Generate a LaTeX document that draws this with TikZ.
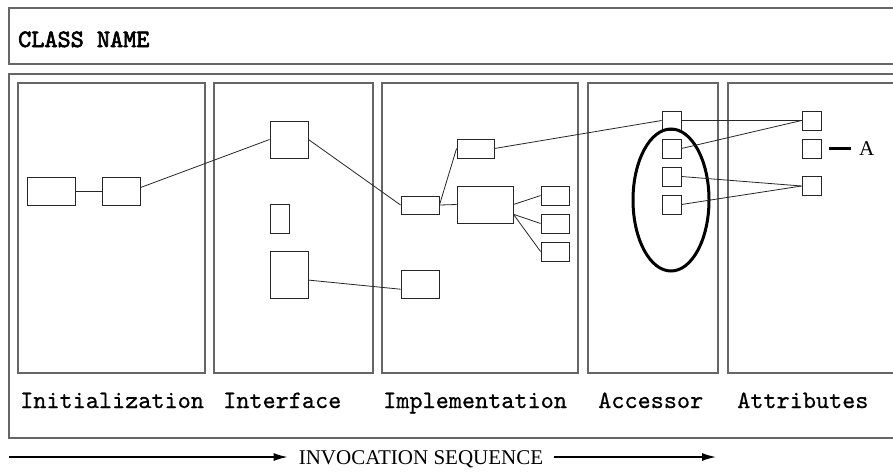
\documentclass[tikz,border=0pt]{standalone}
\usepackage{fontspec}
\setmainfont{Liberation Serif}
\newfontfamily\lblfont{lmmono10-regular.otf}[FakeBold=0.6]
\newfontfamily\clsfont{lmmono10-regular.otf}[FakeBold=2.6]
\usetikzlibrary{arrows.meta}

\begin{document}
\begin{tikzpicture}[x=1pt,y=-1pt]
\tikzstyle{every node}+=[inner sep=0pt]
\tikzstyle{blk}=[draw, black!85, line width=0.9pt, rectangle]
\tikzstyle{pane}=[draw, black!60, line width=1.2pt]
\tikzstyle{lnk}=[black!85, line width=0.8pt]
\tikzstyle{lbl}=[anchor=base west, font=\fontsize{25}{27}\selectfont\lblfont]
\tikzstyle{arr}=[black, line width=1.4pt, -{Latex[length=14pt,width=8pt]}]
\useasboundingbox (0,0) rectangle (893,472);
\clip (0,0) rectangle (893,472);
\draw [pane] (9,8) rectangle (900,64);
\draw [pane] (9,74) rectangle (900,438);
\draw [pane] (18,83) rectangle (205,373);
\draw [pane] (214,83) rectangle (373,373);
\draw [pane] (382,83) rectangle (578,373);
\draw [pane] (588,83) rectangle (718,373);
\draw [pane] (728,83) rectangle (900,373);
\node [lbl, font=\fontsize{25}{27}\selectfont\clsfont] (cname) at (18,47) {CLASS NAME};
\node [lbl] (tini) at (20,408) {Initialization};
\node [lbl] (tint) at (223,408) {Interface};
\node [lbl] (timp) at (383,408) {Implementation};
\node [lbl] (tacc) at (598,408) {Accessor};
\node [lbl] (tatt) at (737,408) {Attributes};
\node [blk, minimum width=48pt, minimum height=28pt] (ini1) at (51,191) {};
\node [blk, minimum width=38pt, minimum height=28pt] (ini2) at (121,191) {};
\node [blk, minimum width=38pt, minimum height=37pt] (int1) at (289,139.5) {};
\node [blk, minimum width=19pt, minimum height=29pt] (int2) at (279.5,218.5) {};
\node [blk, minimum width=38pt, minimum height=47pt] (int3) at (289,274.5) {};
\node [blk, minimum width=38pt, minimum height=18pt] (impa) at (420,205) {};
\node [blk, minimum width=38pt, minimum height=28pt] (impb) at (420,284) {};
\node [blk, minimum width=37pt, minimum height=19pt] (impc) at (475.5,148.5) {};
\node [blk, minimum width=56pt, minimum height=37pt] (impd) at (485,204.5) {};
\node [blk, minimum width=28pt, minimum height=19pt] (impe1) at (555,195.5) {};
\node [blk, minimum width=28pt, minimum height=19pt] (impe2) at (555,223.5) {};
\node [blk, minimum width=28pt, minimum height=19pt] (impe3) at (555,251.5) {};
\node [blk, minimum width=19pt, minimum height=19pt] (acc1) at (671.5,120.5) {};
\node [blk, minimum width=19pt, minimum height=19pt] (acc2) at (671.5,148.5) {};
\node [blk, minimum width=19pt, minimum height=19pt] (acc3) at (671.5,176.5) {};
\node [blk, minimum width=19pt, minimum height=19pt] (acc4) at (671.5,204.5) {};
\node [blk, minimum width=19pt, minimum height=19pt] (att1) at (811.5,120.5) {};
\node [blk, minimum width=19pt, minimum height=19pt] (att2) at (811.5,148.5) {};
\node [blk, minimum width=19pt, minimum height=19pt] (att3) at (811.5,186) {};
\node [anchor=west, font=\fontsize{21}{24}\selectfont] (lbla) at (859,148.5) {A};
\draw [line width=3pt] (671,200) ellipse (38 and 71);
\draw [lnk] (ini1.east) -- (ini2.west);
\draw [lnk] (ini2.10) -- (int1.west);
\draw [lnk] (int1.east) -- (impa.west);
\draw [lnk] (int3.-16) -- (impb.195);
\draw [lnk] (impa.east) -- (impc.west);
\draw [lnk] (impa.east) -- (impd.west);
\draw [lnk] (impd.east) -- (impe1.west);
\draw [lnk] (impd.-19) -- (impe2.west);
\draw [lnk] (impd.-19) -- (impe3.west);
\draw [lnk] (impc.east) -- (acc1.west);
\draw [lnk] (acc1.east) -- (att1.west);
\draw [lnk] (att1.west) -- (acc2.east);
\draw [lnk] (acc3.east) -- (att3.west);
\draw [lnk] (acc4.east) -- (att3.west);
\draw [black, line width=3pt, shorten <=8pt, shorten >=8pt] (att2.east) -- (lbla.west);
\node [anchor=base, inner xsep=11pt, font=\fontsize{21}{24}\selectfont] (inv) at (421,464) {INVOCATION SEQUENCE};
\coordinate (arl) at (9,457);
\coordinate (arr) at (716,457);
\draw [arr] (arl) -- (arl -| inv.west);
\draw [arr] (arr -| inv.east) -- (arr);
\end{tikzpicture}
\end{document}
